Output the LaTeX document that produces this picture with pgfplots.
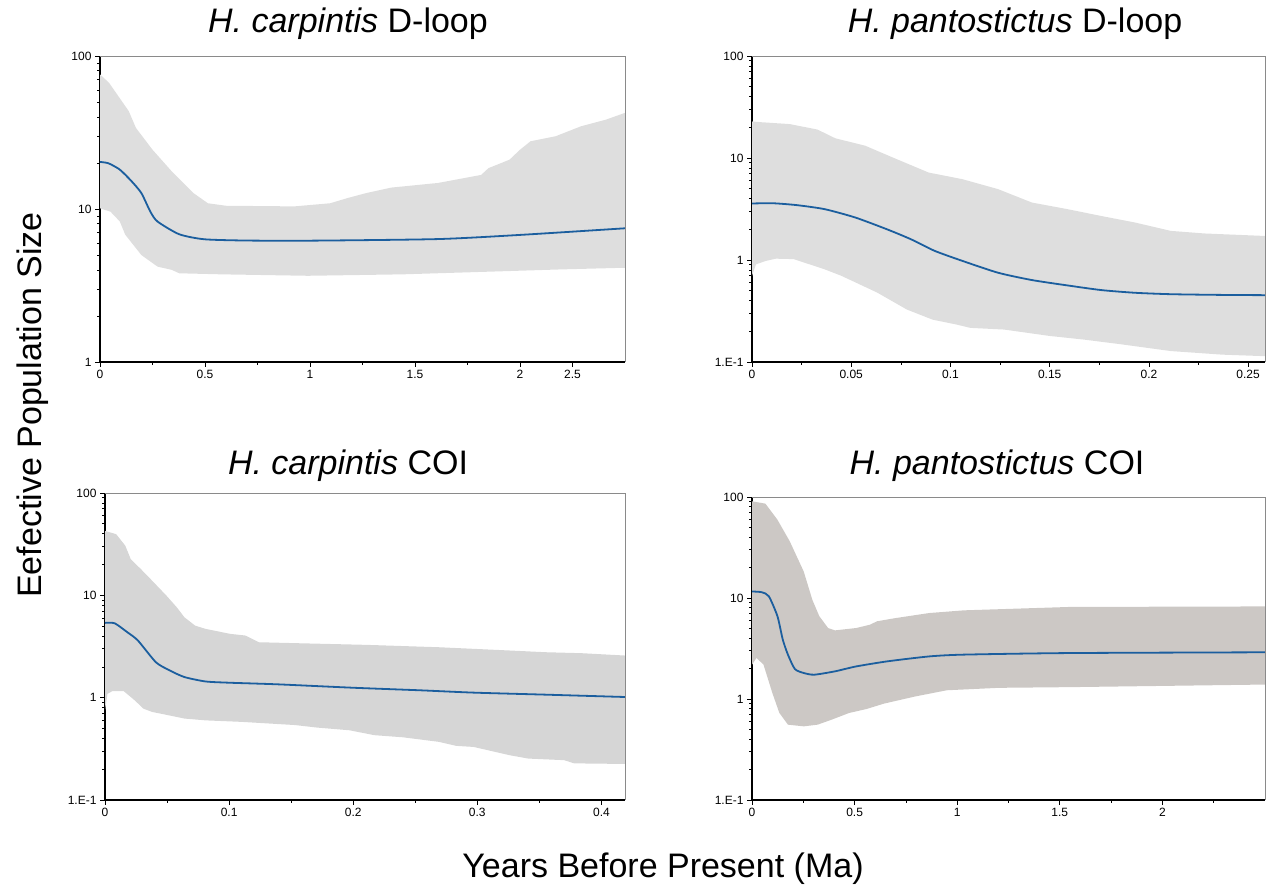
\documentclass[border=0pt]{standalone}
\usepackage{fontspec}
\setmainfont{Liberation Sans}
\usepackage{pgfplots}
\pgfplotsset{compat=1.18}
\definecolor{bandA}{HTML}{DEDEDE}
\definecolor{bandB}{HTML}{D6D6D6}
\definecolor{bandC}{HTML}{CCC8C5}
\definecolor{medblue}{HTML}{1B5E9E}
\definecolor{framegray}{HTML}{8A8A8A}

\pgfplotsset{
  myaxis/.style={
    scale only axis, anchor=south west,
    axis x line*=bottom, axis y line*=left,
    axis line style={-, black, line width=1.2pt},
    tick align=outside, major tick length=5pt, minor tick length=3pt,
    every tick/.append style={black, line width=0.7pt},
    tick label style={font=\fontsize{12}{14}\selectfont},
    xmin=0, clip=false,
  },
  medline/.style={medblue, line width=1.8pt, smooth, tension=0.4},
}
\newcommand{\frametr}{\draw[framegray, line width=0.8pt] (rel axis cs:0,1) -- (rel axis cs:1,1) -- (rel axis cs:1,0);}

\begin{document}
\begin{tikzpicture}
\path (0pt,0pt) rectangle (1266pt,888pt);

% Panel 1
\begin{axis}[ymode=log, myaxis, at={(100pt,526pt)}, width=525pt, height=306pt,
  xmax=2.5, ymin=1, ymax=100,
  xtick={0,0.5,1,1.5,2,2.25}, xticklabels={0,0.5,1,1.5,2,2.5},
  minor xtick={0.25,0.75,1.25,1.75},
  ytick={1,10,100}, yticklabels={1,10,100},
  minor ytick={2,3,4,5,6,7,8,9,20,30,40,50,60,70,80,90}]
\addplot[fill=bandA, draw=none] coordinates {
(0,75.8) (0.043,66.8) (0.137,43.6) (0.171,33.9) (0.25,24.4) (0.342,17.6) (0.445,12.7) (0.514,10.9) (0.6,10.5) (0.925,10.4) (1.096,10.9) (1.18,11.8) (1.267,12.7) (1.387,13.8) (1.61,14.8) (1.815,16.7) (1.85,18.5) (1.95,21.0) (2.0,24.4) (2.05,27.7) (2.17,29.9) (2.29,34.7) (2.41,38.4) (2.5,42.5)
(2.5,4.13) (2.2,4.03) (1.87,3.9) (1.44,3.74) (0.99,3.66) (0.58,3.74) (0.377,3.8) (0.342,4.0) (0.274,4.2) (0.197,5.0) (0.12,6.8) (0.094,8.3) (0.05,9.6) (0,10.1)} -- cycle;
\addplot[medline] coordinates {
(0,20.3) (0.04,19.9) (0.094,18.1) (0.15,15.2) (0.197,12.7) (0.24,9.6) (0.274,8.28) (0.377,6.84) (0.497,6.34) (0.7,6.22) (1.01,6.21) (1.61,6.36) (2.0,6.77) (2.5,7.48)};
\frametr
\end{axis}

% Panel 2
\begin{axis}[ymode=log, myaxis, at={(752pt,526pt)}, width=513pt, height=306pt,
  xmax=0.2585, ymin=0.1, ymax=100,
  xtick={0,0.05,0.1,0.15,0.2,0.25}, xticklabels={0,0.05,0.1,0.15,0.2,0.25},
  minor xtick={0.025,0.075,0.125,0.175,0.225},
  ytick={0.1,1,10,100}, yticklabels={1.E-1,1,10,100},
  minor ytick={0.2,0.3,0.4,0.5,0.6,0.7,0.8,0.9,2,3,4,5,6,7,8,9,20,30,40,50,60,70,80,90}]
\addplot[fill=bandA, draw=none] coordinates {
(0,22.8) (0.005,22.4) (0.019,21.5) (0.033,19.0) (0.042,15.6) (0.057,13.2) (0.071,10.1) (0.089,7.2) (0.106,6.2) (0.124,4.95) (0.141,3.66) (0.159,3.15) (0.176,2.7) (0.193,2.33) (0.211,1.93) (0.228,1.82) (0.2585,1.72)
(0.2585,0.114) (0.237,0.118) (0.211,0.128) (0.185,0.15) (0.167,0.166) (0.15,0.18) (0.127,0.208) (0.11,0.216) (0.103,0.233) (0.091,0.26) (0.078,0.327) (0.063,0.48) (0.045,0.70) (0.0366,0.81) (0.021,1.02) (0.012,1.03) (0.007,0.98) (0.002,0.906) (0,0.70)} -- cycle;
\addplot[medline] coordinates {
(0,3.58) (0.0105,3.6) (0.0226,3.45) (0.0366,3.15) (0.052,2.61) (0.068,2.0) (0.080,1.6) (0.092,1.23) (0.106,0.98) (0.124,0.75) (0.141,0.636) (0.159,0.563) (0.176,0.507) (0.193,0.477) (0.211,0.462) (0.235,0.455) (0.2585,0.452)};
\frametr
\end{axis}

% Panel 3
\begin{axis}[ymode=log, myaxis, at={(105pt,88pt)}, width=520pt, height=307pt,
  xmax=0.419, ymin=0.1, ymax=100,
  xtick={0,0.1,0.2,0.3,0.4}, xticklabels={0,0.1,0.2,0.3,0.4},
  minor xtick={0.05,0.15,0.25,0.35},
  ytick={0.1,1,10,100}, yticklabels={1.E-1,1,10,100},
  minor ytick={0.2,0.3,0.4,0.5,0.6,0.7,0.8,0.9,2,3,4,5,6,7,8,9,20,30,40,50,60,70,80,90}]
\addplot[fill=bandB, draw=none] coordinates {
(0,42.6) (0.009,39.6) (0.0164,30.5) (0.0207,22.6) (0.029,18.0) (0.038,13.9) (0.0496,9.9) (0.058,7.6) (0.064,6.1) (0.0726,5.06) (0.081,4.70) (0.101,4.2) (0.113,4.05) (0.124,3.48) (0.153,3.41) (0.211,3.28) (0.269,3.11) (0.297,3.0) (0.326,2.89) (0.355,2.78) (0.384,2.72) (0.419,2.58)
(0.419,0.225) (0.378,0.228) (0.37,0.245) (0.341,0.254) (0.326,0.274) (0.297,0.33) (0.283,0.338) (0.269,0.37) (0.24,0.41) (0.217,0.43) (0.197,0.48) (0.171,0.51) (0.153,0.54) (0.11,0.58) (0.081,0.60) (0.064,0.625) (0.052,0.67) (0.038,0.725) (0.031,0.78) (0.024,0.94) (0.015,1.16) (0.006,1.16) (0.002,1.09) (0,0.75)} -- cycle;
\addplot[medline] coordinates {
(0,5.38) (0.0078,5.33) (0.018,4.36) (0.0265,3.62) (0.041,2.22) (0.052,1.85) (0.064,1.59) (0.081,1.44) (0.1,1.40) (0.139,1.35) (0.2,1.25) (0.254,1.18) (0.297,1.12) (0.355,1.07) (0.419,1.015)};
\frametr
\end{axis}

% Panel 4
\begin{axis}[ymode=log, myaxis, at={(752pt,88pt)}, width=513pt, height=303pt,
  xmax=2.5, ymin=0.1, ymax=100,
  xtick={0,0.5,1,1.5,2}, xticklabels={0,0.5,1,1.5,2},
  minor xtick={0.25,0.75,1.25,1.75,2.25},
  ytick={0.1,1,10,100}, yticklabels={1.E-1,1,10,100},
  minor ytick={0.2,0.3,0.4,0.5,0.6,0.7,0.8,0.9,2,3,4,5,6,7,8,9,20,30,40,50,60,70,80,90}]
\addplot[fill=bandC, draw=none] coordinates {
(0,90.6) (0.065,86) (0.124,59.5) (0.184,36.4) (0.252,18.3) (0.294,9.6) (0.328,6.6) (0.371,5.04) (0.405,4.78) (0.507,5.04) (0.575,5.44) (0.609,5.88) (0.694,6.3) (0.864,7.1) (1.034,7.55) (1.544,8.15) (2.5,8.25)
(2.5,1.39) (1.544,1.31) (1.204,1.29) (0.949,1.22) (0.796,1.06) (0.643,0.9) (0.558,0.796) (0.473,0.727) (0.388,0.624) (0.32,0.557) (0.252,0.536) (0.175,0.557) (0.133,0.73) (0.099,1.15) (0.056,2.19) (0.022,2.55) (0,2.19)} -- cycle;
\addplot[medline] coordinates {
(0,11.6) (0.048,11.4) (0.082,10.4) (0.124,6.6) (0.15,3.87) (0.175,2.75) (0.209,1.98) (0.252,1.81) (0.303,1.74) (0.405,1.88) (0.507,2.1) (0.66,2.36) (0.864,2.64) (1.034,2.75) (1.544,2.85) (2.5,2.9)};
\frametr
\end{axis}

% Titles and labels
\node[anchor=base, font=\fontsize{34}{40}\selectfont] at (348pt,855pt) {\textit{H. carpintis} D-loop};
\node[anchor=base, font=\fontsize{34}{40}\selectfont] at (1015pt,855pt) {\textit{H. pantostictus} D-loop};
\node[anchor=base, font=\fontsize{34}{40}\selectfont] at (348pt,413pt) {\textit{H. carpintis} COI};
\node[anchor=base, font=\fontsize{34}{40}\selectfont] at (997pt,413pt) {\textit{H. pantostictus} COI};
\node[anchor=base, font=\fontsize{34}{40}\selectfont] at (663pt,10pt) {Years Before Present (Ma)};
\node[anchor=base, rotate=90, font=\fontsize{34}{40}\selectfont] at (42pt,483pt) {Eefective Population Size};
\end{tikzpicture}
\end{document}
